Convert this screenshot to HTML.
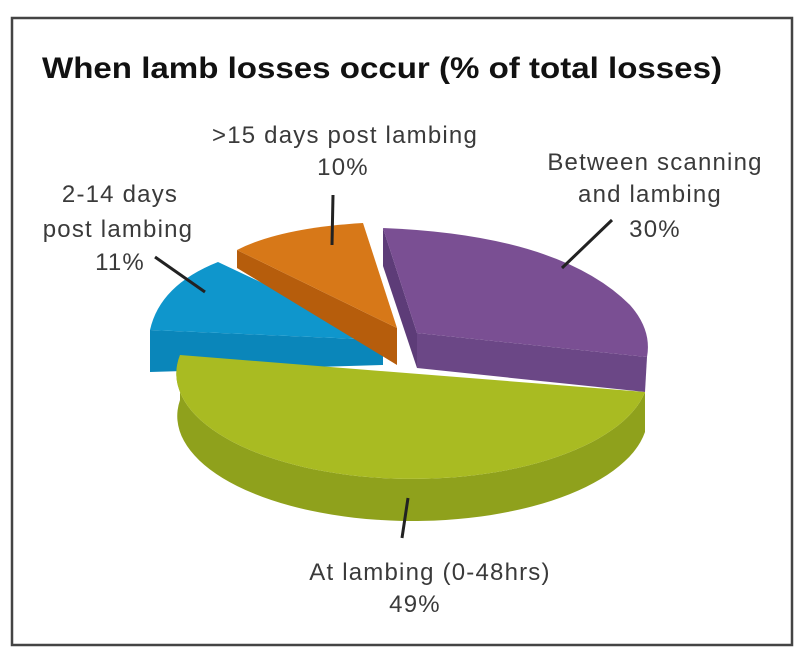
<!DOCTYPE html>
<html><head><meta charset="utf-8"><style>
html,body{margin:0;padding:0;background:#fff;}
svg{display:block;}
text{font-family:"Liberation Sans",sans-serif;fill:#3a3a3a;}
</style></head><body>
<svg width="804" height="659" viewBox="0 0 804 659">
<rect x="12" y="18" width="780" height="627" fill="#fff" stroke="#444" stroke-width="2.5"/>
<text x="42" y="78" font-size="30" font-weight="bold" style="fill:#111" textLength="680" lengthAdjust="spacingAndGlyphs">When lamb losses occur (% of total losses)</text>

<!-- blue -->
<path d="M150,330 L150,372 L383,365 L383,340 Z" fill="#0a86ba"/>
<path d="M150,330 Q160,285 218,262 L383,340 Z" fill="#0f96cc"/>
<!-- orange -->
<path d="M237,250 L237,268 L397,365 L397,328 Z" fill="#b65d0c"/>
<path d="M237,250 Q280,228 363,223 L397,328 Z" fill="#d77818"/>
<!-- purple -->
<path d="M383,228 L417,333 L417,368 L383,266 Z" fill="#5d3c78"/>
<path d="M417,333 L647,357 L645,392 L417,368 Z" fill="#6b4786"/>
<path d="M383,228 Q560,235 630,305 Q652,330 647,357 L417,333 Z" fill="#7a4f93"/>
<!-- green -->
<path d="M180,355 L180,400 A233,104 0 0 0 645,432 L645,392 A233,104 0 0 1 180,355 Z" fill="#8fa11c"/>
<path d="M180,355 L645,392 A233,104 0 0 1 180,355 Z" fill="#a9bb22"/>

<g stroke="#222" stroke-width="3" fill="none">
<line x1="333" y1="195" x2="332" y2="245"/>
<line x1="155" y1="257" x2="205" y2="292"/>
<line x1="612" y1="220" x2="562" y2="268"/>
<line x1="408" y1="498" x2="402" y2="538"/>
</g>

<g font-size="24" text-anchor="middle" letter-spacing="1.2">
<text x="345" y="143">&gt;15 days post lambing</text>
<text x="343" y="175">10%</text>
<text x="120" y="202">2-14 days</text>
<text x="118" y="237">post lambing</text>
<text x="120" y="270">11%</text>
<text x="655" y="170">Between scanning</text>
<text x="650" y="202">and lambing</text>
<text x="655" y="237">30%</text>
<text x="430" y="580">At lambing (0-48hrs)</text>
<text x="415" y="612">49%</text>
</g>
</svg>
</body></html>
